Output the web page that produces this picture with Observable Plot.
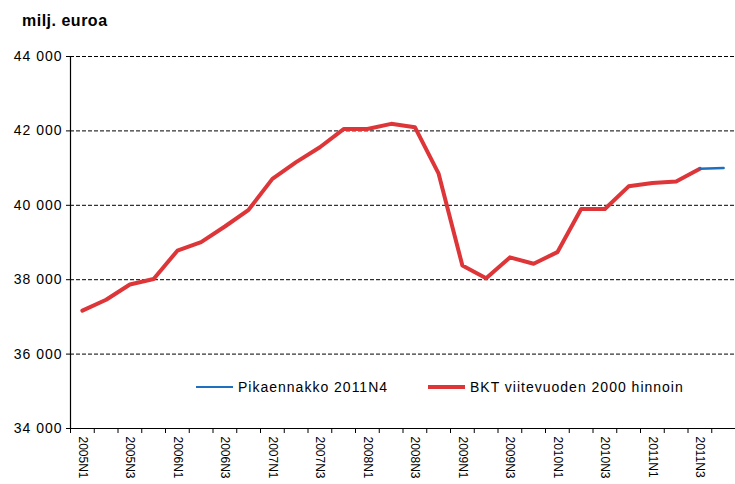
<!DOCTYPE html>
<html>
<head>
<meta charset="utf-8">
<script src="https://cdn.jsdelivr.net/npm/d3@7"></script>
<script src="https://cdn.jsdelivr.net/npm/@observablehq/plot@0.6"></script>
<style>
  html, body { margin: 0; padding: 0; background: #fff; }
  #wrap { position: relative; width: 735px; height: 484px; font-family: "Liberation Sans", Arial, sans-serif; }
  #title { position: absolute; left: 22px; top: 12px; font-size: 16px; font-weight: bold; letter-spacing: 0.5px; color: #000; }
  .item { position: absolute; top: 379px; display: flex; align-items: center; font-size: 14px; letter-spacing: 1px; color: #000; }
  .sw { width: 37px; margin-right: 5px; }
  #chart svg g[aria-label="y-axis tick label"] text { letter-spacing: 1px; }
</style>
</head>
<body>
<div id="wrap">
  <div id="chart"></div>
  <div id="title">milj. euroa</div>
  <div class="item" style="left:196px"><div class="sw" style="height:2.5px;background:#1f6fbf"></div><span>Pikaennakko 2011N4</span></div>
  <div class="item" style="left:428px"><div class="sw" style="height:4.5px;background:#dd3538"></div><span>BKT viitevuoden 2000 hinnoin</span></div>
</div>
<script>
const quarters = [
  "2005N1","2005N2","2005N3","2005N4",
  "2006N1","2006N2","2006N3","2006N4",
  "2007N1","2007N2","2007N3","2007N4",
  "2008N1","2008N2","2008N3","2008N4",
  "2009N1","2009N2","2009N3","2009N4",
  "2010N1","2010N2","2010N3","2010N4",
  "2011N1","2011N2","2011N3","2011N4"
];
// BKT viitevuoden 2000 hinnoin (2005N1 .. 2011N3)
const bkt = [37170, 37460, 37870, 38020, 38780, 39010, 39430, 39880,
             40710, 41160, 41560, 42050, 42050, 42190, 42100, 40850,
             38380, 38040, 38600, 38430, 38740, 39900, 39900, 40510,
             40600, 40640, 40980];
// Pikaennakko 2011N4 (2011N3 .. 2011N4)
const pikaQuarters = ["2011N3", "2011N4"];
const pika = [40980, 41000];
const yTicks = [34000, 36000, 38000, 40000, 42000, 44000];
const gridValues = [36000, 38000, 40000, 42000, 44000];

const idx = q => quarters.indexOf(q);
const bktData = bkt.map((v, i) => ({q: quarters[i], v}));
const pikaData = pika.map((v, i) => ({q: pikaQuarters[i], v}));
const fmt = v => d3.format(",")(v).replace(",", " ");

const chart = Plot.plot({
  width: 735,
  height: 484,
  marginLeft: 70,
  marginRight: 0,
  marginTop: 56,
  marginBottom: 56,
  style: {fontFamily: "'Liberation Sans', Arial, sans-serif", background: "#fff", color: "#000"},
  x: {type: "linear", domain: [-0.5, quarters.length - 0.5]},
  y: {domain: [34000, 44000]},
  marks: [
    Plot.ruleY(gridValues, {stroke: "#000", strokeWidth: 1, strokeDasharray: "4,2"}),
    Plot.axisY({ticks: yTicks, tickSize: 4, tickPadding: 4, tickFormat: fmt, fontSize: 14, stroke: "#000", label: null}),
    Plot.axisX({ticks: d3.range(quarters.length + 1).map(i => i - 0.5), tickSize: 5, tickFormat: () => "", stroke: "#000", label: null}),
    Plot.axisX({ticks: d3.range(0, quarters.length, 2), tickSize: 0, tickPadding: 8, tickRotate: 90,
                tickFormat: i => quarters[i], fontSize: 12, label: null}),
    Plot.ruleY([34000], {stroke: "#000", strokeWidth: 1}),
    Plot.ruleX([-0.5], {stroke: "#000", strokeWidth: 1.2}),
    Plot.line(bktData, {x: d => idx(d.q), y: "v", stroke: "#dd3538", strokeWidth: 4, strokeLinejoin: "round"}),
    Plot.line(pikaData, {x: d => idx(d.q), y: "v", stroke: "#1f6fbf", strokeWidth: 2.5})
  ]
});
document.getElementById("chart").appendChild(chart);
</script>
</body>
</html>
